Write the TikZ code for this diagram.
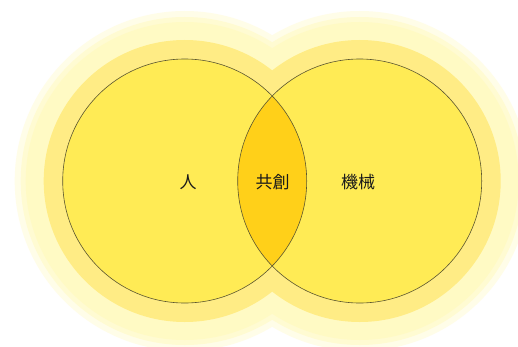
\documentclass[tikz,border=0pt]{standalone}
\usepackage{fontspec}
\newfontfamily\cjk{Noto Sans CJK JP}
\definecolor{fillc}{HTML}{FFEB55}
\definecolor{lensc}{HTML}{FFD019}
\definecolor{haloa}{HTML}{FFEC85}
\definecolor{halob}{HTML}{FFFAC4}
\definecolor{haloc}{HTML}{FFFDE8}
\definecolor{linec}{HTML}{5A5530}
\definecolor{txt}{HTML}{1A1A1A}
\tikzset{
  setcircle/.style={circle, minimum size=244pt, inner sep=0pt, draw=linec, line width=0.6pt},
  lbl/.style={font=\cjk\fontsize{17}{17}\selectfont, text=txt, inner sep=0pt}
}
\begin{document}
\begin{tikzpicture}[x=1pt,y=1pt]
\useasboundingbox (0,0) rectangle (518,346);
\fill[white] (0,0) rectangle (518,346);
\coordinate (cl) at (184.7,165);
\coordinate (cr) at (359.7,165);
% glow
\fill[haloc] (cl) circle (170) (cr) circle (170);
\fill[halob!60!haloc] (cl) circle (164) (cr) circle (164);
\fill[halob] (cl) circle (159) (cr) circle (159);
\fill[haloa] (cl) circle (141) (cr) circle (141);
% circles
\fill[fillc] (cl) circle (122) (cr) circle (122);
\begin{scope}
  \clip (cl) circle (122);
  \fill[lensc] (cr) circle (122);
\end{scope}
\node[setcircle] (L) at (cl) {};
\node[setcircle] (R) at (cr) {};
\node[lbl] (hito) at (188,164) {人};
\node[lbl] (kyoso) at (272.5,164) {共創};
\node[lbl] (kikai) at (358,164) {機械};
\end{tikzpicture}
\end{document}
